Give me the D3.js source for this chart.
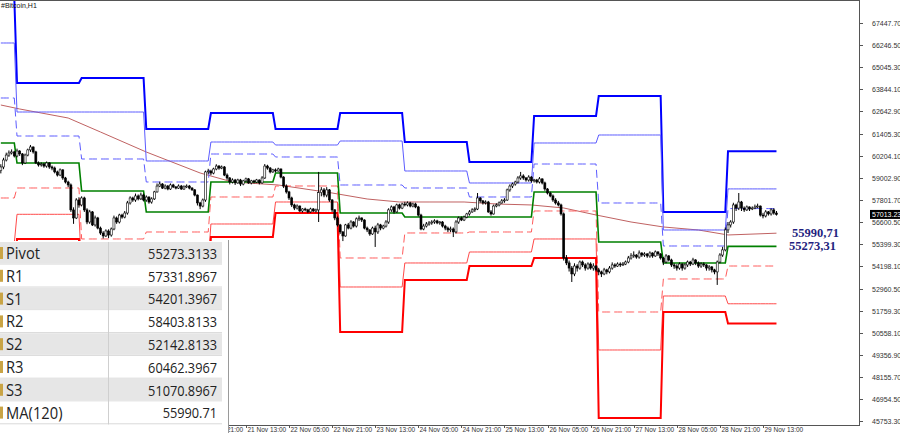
<!DOCTYPE html>
<html><head><meta charset="utf-8">
<script src="https://cdn.jsdelivr.net/npm/d3@7"></script>
<style>body{margin:0;background:#fff;overflow:hidden}svg{display:block}</style>
</head><body><svg id="c" width="900" height="433"></svg>
<script>
// ---- data ----
const title = "#Bitcoin,H1";
const firstBar = [2021, 10, 17, 18]; // 17 Nov 18:00, hourly bars
const firstOpen = 59400;
const closes = [
59600,59980,60250,60360,60420,60200,60470,60310,59820,60250,
60530,60690,60420,59820,59710,59760,59650,59820,59600,59540,
59330,59160,59440,59000,58780,58620,57260,56820,57800,57530,
57910,57260,56600,57150,56440,56820,56270,56000,55840,56110,
55890,56220,56820,56600,56980,56870,57090,57640,57910,57800,
58020,57860,58070,57800,57960,57690,57860,58240,58560,58670,
58450,58560,58400,58620,58510,58450,58560,58400,58510,58560,
58450,58350,58070,57640,57470,57800,59330,59380,59270,59490,
59650,59540,59600,59160,59000,58780,58890,58730,58890,58670,
58840,58950,58730,58840,58780,58890,58730,59000,59650,59540,
59330,59440,59380,59490,59050,58560,58240,57910,57530,57360,
57470,57200,57310,57260,57150,57310,57200,57260,58200,58350,
58070,58350,57800,57260,56820,56440,56060,55840,56440,56270,
56600,56380,56770,56820,56710,56270,56170,55950,56270,56060,
56440,56270,56380,56600,57260,57420,57150,57530,57360,57580,
57530,57640,57470,57580,57420,56980,56220,56380,56490,56550,
56600,56660,56550,56600,56380,56270,56170,56220,56060,56600,
56820,56710,56870,57040,57150,57260,57310,57910,57750,57640,
57690,57150,57040,57470,57530,57640,57750,57800,58350,58560,
58670,58780,59000,59110,59000,58890,59050,58840,58890,58780,
58950,58730,58400,58180,58020,57800,57640,57530,57040,54640,
54370,54090,53770,54200,54090,54420,54260,54090,54310,54090,
54200,53990,53880,53770,53990,53880,54090,54260,54200,54310,
54260,54310,54420,54640,54750,54800,54690,54910,54800,54860,
54750,54910,54750,54970,54860,54640,54420,54750,54530,54260,
54200,54090,54310,54090,54260,54420,54310,54530,54370,54200,
54310,54260,54090,54150,53990,53880,54420,54800,55080,56170,
56440,56600,57530,57360,57690,57360,57260,57420,57310,57360,
57420,57470,56980,56930,57150,57040,57260,57090,57013.23];
const highs = [
59750,60100,60380,60500,60560,60480,60600,60520,60360,60330,
60600,60800,60720,60480,59900,59850,59830,59900,59860,59680,
59620,59400,59520,59480,59060,58850,58700,57400,57900,57950,
58000,57980,57350,57260,57200,56950,56880,56350,56100,56200,
56200,56300,56950,56900,57050,57050,57200,57750,58000,57980,
58150,58100,58200,58150,58050,58000,57950,58300,58700,58800,
58720,58650,58620,58700,58680,58560,58650,58620,58600,58650,
58620,58500,58400,58100,57700,57880,59400,59500,59450,59560,
59750,59700,59680,59650,59250,59050,58980,58950,58960,58950,
58900,59020,59000,58900,58900,58950,58920,59100,59760,59720,
59600,59500,59520,59560,59520,59100,58650,58300,57980,57600,
57560,57500,57350,57380,57320,57380,57360,57330,59330,58500,
58450,58500,58400,57850,57300,56900,56500,56100,56500,56550,
56700,56650,56850,56950,56850,56750,56350,56200,56350,56400,
56550,56500,56450,56700,57350,57500,57480,57600,57600,57650,
57700,57720,57700,57650,57650,57480,57050,56500,56600,56650,
56700,56750,56720,56650,56650,56450,56350,56350,56300,56700,
56900,56900,56950,57100,57250,57350,57400,58180,57960,57800,
57780,57750,57250,57550,57620,57720,57850,57900,58420,58650,
58750,58850,59100,59330,59200,59050,59150,59100,58950,58950,
59050,58980,58800,58450,58250,58100,57900,57750,57600,57120,
54800,54500,54200,54350,54300,54500,54500,54350,54400,54400,
54350,54250,54100,53950,54100,54050,54200,54400,54350,54400,
54400,54420,54500,54750,54900,55000,54850,55050,54950,54950,
54900,55000,54950,55050,55000,54900,54700,54850,54800,54600,
54350,54300,54400,54350,54350,54500,54480,54650,54580,54450,
54400,54400,54300,54250,54200,54050,54500,54900,55250,56300,
56600,56700,57650,57600,58180,57750,57450,57500,57450,57450,
57550,57600,57500,57100,57250,57200,57350,57350,57200];
const lows = [
59250,59480,59900,60150,60280,60120,60120,60200,59700,59760,
60180,60420,60330,59760,59620,59620,59560,59560,59500,59420,
59250,59080,59100,58900,58700,58500,57150,56500,56760,57380,
57450,57150,56480,56500,56380,56350,56200,55900,55700,55780,
55720,55800,56150,56500,56520,56780,56800,57000,57550,57700,
57700,57780,57800,57720,57700,57600,57600,57800,58200,58500,
58400,58380,58330,58350,58450,58380,58400,58350,58350,58450,
58380,58300,58000,57500,57300,57400,57700,59200,59150,59200,
59420,59450,59480,59100,58900,58650,58700,58620,58680,58560,
58600,58780,58680,58650,58700,58720,58650,58680,58950,59450,
59250,59280,59300,59350,58980,58450,58150,57800,57420,57250,
57280,57150,57120,57180,57080,57100,57150,57120,56600,58000,
57950,57950,57700,57150,56700,56350,55950,55560,55800,56200,
56200,56300,56300,56650,56600,56200,56050,55850,55900,55240,
55950,56150,56200,56300,56500,57150,57050,57100,57280,57300,
57450,57450,57400,57400,57350,56900,56150,56150,56300,56400,
56450,56500,56480,56450,56300,56150,56050,56050,55780,55980,
56500,56650,56650,56800,56950,57100,57150,57250,57650,57550,
57550,57100,56950,57000,57400,57450,57600,57650,57750,58250,
58450,58580,58700,58900,58900,58800,58800,58750,58750,58700,
58700,58650,58300,58100,57950,57700,57550,57450,56950,54500,
54250,53900,53330,53650,53900,54000,54150,53950,54000,54000,
53950,53900,53700,53600,53700,53750,53800,54000,54100,54150,
54150,54200,54250,54350,54550,54650,54600,54600,54700,54700,
54650,54650,54650,54700,54750,54550,54250,54350,54450,54150,
54050,53950,54000,53950,54000,54150,54200,54250,54250,54100,
54100,54150,53950,53950,53850,53750,53170,54350,54700,55000,
56000,56300,56500,57200,57250,57200,57150,57200,57200,57250,
57300,57350,56900,56800,56850,56950,56950,57000,56950];

// daily pivot levels, 17 Nov .. 29 Nov
const pivotDays = [17,18,19,20,21,22,23,24,25,26,27,28,29];
const levelP  = [60907,59817,58291,57146,58781,59272,57092,56874,56874,58236,55511,54367,55273.3133];
const levelR1 = [63360,61288,60035,58781,60307,60144,58618,58454,57964,59762,57637,55293,57331.8967];
const levelS1 = [57909,58454,55675,56056,57964,58563,54639,56002,56056,57201,51695,53495,54201.3967];
const levelR2 = [66358,62596,62596,59926,60961,60798,61016,59381,58727,60907,61343,56165,58403.8133];
const levelS2 = [55457,57020,53985,54367,56492,57691,53058,54367,54966,55675,49624,52567,52142.8133];
const levelR3 = [68810,64177,64450,61670,62542,61670,62542,60961,59871,62378,63469,57146,60462.3967];
const levelS3 = [52458,55675,51313,53222,55784,57092,50605,53440,54203,54639,45917,51695,51070.8967];

// MA(120) read at selected bars
const maBars   = [0,7,25,37,54,74,86,103,123,136,148,159,172,184,197,209,221,234,246,259,270,288];
const maValues = [62978,62760,62269,61506,60416,59272,58781,58618,58182,57855,57691,57691,57691,57582,57528,57364,56983,56601,56329,56165,55893,55990.71];

const xTickLabels = ["20 Nov 21:00","21 Nov 13:00","22 Nov 05:00","22 Nov 21:00","23 Nov 13:00","24 Nov 05:00","24 Nov 21:00","25 Nov 13:00","26 Nov 05:00","26 Nov 21:00","27 Nov 13:00","28 Nov 05:00","28 Nov 21:00","29 Nov 13:00"];
const yTickValues = [67447.70,66246.50,65045.30,63844.10,62642.90,61405.30,60204.10,59002.90,57801.70,56600.50,55399.30,54198.10,52960.50,51759.30,50558.10,49356.90,48155.70,46954.50,45753.30];
const lastPrice = 57013.23;

const tableNames  = ["Pivot","R1","S1","R2","S2","R3","S3","MA(120)"];
const tableValues = ["55273.3133","57331.8967","54201.3967","58403.8133","52142.8133","60462.3967","51070.8967","55990.71"];
const sideLabels  = ["55990,71","55273,31"];
const sideValues  = [55990.71, 55273.3133];

// ---- drawing ----
const svg = d3.select("#c");
const W = 900, H = 433, plotR = 859, plotB = 425;
const dt = (d,h)=> new Date(2021,10,d,h);
const x = d3.scaleTime().domain([dt(18,0), dt(29,0)]).range([17, 728]);
const y = d3.scaleLinear().domain([45753.3, 67447.7]).range([421, 23]);

const t0 = new Date(firstBar[0], firstBar[1], firstBar[2], firstBar[3]);
const bars = closes.map((c,i)=>{
  const t = new Date(t0.getTime() + i*3600000);
  const o = i===0 ? firstOpen : closes[i-1];
  return {i, t, o, c, h: highs[i], l: lows[i], day: t.getDate()};
});

svg.append("rect").attr("width",W).attr("height",H).attr("fill","#fff");
svg.append("defs").append("clipPath").attr("id","pc").append("rect")
  .attr("x",0).attr("y",1).attr("width",plotR).attr("height",plotB-1);
const g = svg.append("g").attr("clip-path","url(#pc)");

const levels = [
  {v:levelR3, c:"#0000ff", w:2, d:null},
  {v:levelR2, c:"#5c5cff", w:1, d:null},
  {v:levelR1, c:"#5c5cff", w:1, d:"8,4"},
  {v:levelS1, c:"#ff5c5c", w:1, d:"8,4"},
  {v:levelS2, c:"#ff4a4a", w:1, d:null},
  {v:levelS3, c:"#ff0000", w:2, d:null},
  {v:levelP,  c:"#008000", w:1.6, d:null}
];
// MA
const maLine = d3.line().x(d=>x(bars[d[0]].t)).y(d=>y(d[1]));
g.append("path").datum(maBars.map((b,k)=>[b,maValues[k]]))
  .attr("d",maLine).attr("fill","none").attr("stroke","#c06262").attr("stroke-width",1);

const lvLine = d3.line().x(d=>x(d.t)).y(d=>d.yy);
levels.forEach(L=>{
  const pts = bars.map(b=>({t:b.t, yy:y(L.v[pivotDays.indexOf(b.day)])}));
  g.append("path").datum(pts).attr("d",lvLine).attr("fill","none")
    .attr("stroke",L.c).attr("stroke-width",L.w)
    .attr("stroke-dasharray",L.d);
});

// candles
const cg = g.append("g");
cg.selectAll("line").data(bars).join("line")
  .attr("x1",d=>x(d.t)).attr("x2",d=>x(d.t))
  .attr("y1",d=>y(d.h)).attr("y2",d=>y(d.l))
  .attr("stroke","#000").attr("stroke-width",1);
cg.selectAll("rect").data(bars).join("rect")
  .attr("x",d=>x(d.t)-1).attr("width",2)
  .attr("y",d=>y(Math.max(d.o,d.c)))
  .attr("height",d=>Math.max(0.8,Math.abs(y(d.o)-y(d.c))))
  .attr("fill",d=>d.c>=d.o?"#fff":"#000")
  .attr("stroke","#000").attr("stroke-width",0.6);

// frame
svg.append("line").attr("x1",0).attr("x2",plotR).attr("y1",0.5).attr("y2",0.5).attr("stroke","#555");
svg.append("line").attr("x1",plotR+0.5).attr("x2",plotR+0.5).attr("y1",0).attr("y2",plotB+0.5).attr("stroke","#555");
svg.append("line").attr("x1",0).attr("x2",plotR+1).attr("y1",plotB+0.5).attr("y2",plotB+0.5).attr("stroke","#555");

// title
svg.append("text").attr("x",1).attr("y",8).text(title)
  .attr("font-family","Liberation Sans, Arial").attr("font-size",7).attr("fill","#111");

// y axis
const ya = svg.append("g");
yTickValues.forEach(v=>{
  const yy = Math.round(y(v))+0.5;
  ya.append("line").attr("x1",plotR).attr("x2",plotR+4).attr("y1",yy).attr("y2",yy).attr("stroke","#555");
  ya.append("text").attr("x",872).attr("y",yy).attr("dy","0.35em").text(v.toFixed(2))
    .attr("font-family","Liberation Sans, Arial").attr("font-size",7).attr("fill","#333");
});
const ly = y(lastPrice);
ya.append("rect").attr("x",870).attr("y",ly-4.5).attr("width",30).attr("height",9).attr("fill","#000");
ya.append("text").attr("x",872).attr("y",ly).attr("dy","0.35em").text(lastPrice.toFixed(2))
  .attr("font-family","Liberation Sans, Arial").attr("font-size",7).attr("fill","#fff");

// x axis
const pt = s=>{const m=s.match(/(\d+) Nov (\d+):(\d+)/);return dt(+m[1],+m[2]);};
xTickLabels.forEach(s=>{
  const xx = Math.round(x(pt(s)))+0.5;
  svg.append("line").attr("x1",xx).attr("x2",xx).attr("y1",plotB).attr("y2",plotB+3).attr("stroke","#555");
  svg.append("text").attr("x",xx+1).attr("y",432).text(s)
    .attr("font-family","Liberation Sans, Arial").attr("font-size",6.5).attr("fill","#333");
});

// side labels
sideLabels.forEach((s,k)=>{
  svg.append("text").attr("x",k===0?792:789).attr("y",y(sideValues[k])).attr("dy","0.33em").text(s)
    .attr("font-family","Liberation Serif, Times New Roman").attr("font-weight","bold")
    .attr("font-size",12.5).attr("fill","#1f1f80");
});

// table
const tb = svg.append("g");
const tTop = 242, rowH = 22.8;
tb.append("rect").attr("x",0).attr("y",tTop-1).attr("width",228).attr("height",H-tTop+1).attr("fill","#fff");
tableNames.forEach((n,k)=>{
  const y0 = tTop + k*rowH;
  tb.append("rect").attr("x",0).attr("y",y0).attr("width",222).attr("height",rowH-1.2)
    .attr("fill",k%2===0?"#e6e6e6":"#fff");
  tb.append("line").attr("x1",0).attr("x2",222).attr("y1",y0+rowH-0.6).attr("y2",y0+rowH-0.6).attr("stroke","#d9d9d9");
  tb.append("rect").attr("x",0).attr("y",y0+5).attr("width",3).attr("height",12).attr("fill","#c9a445");
  tb.append("text").attr("transform",`translate(6,${y0+rowH/2}) scale(0.95,1)`).attr("dy","0.36em").text(n)
    .attr("font-family","Open Sans, Noto Sans").attr("font-size",15.5).attr("fill","#222");
  tb.append("text").attr("transform",`translate(217,${y0+rowH/2}) scale(0.85,1)`).attr("dy","0.36em")
    .attr("text-anchor","end").text(tableValues[k])
    .attr("font-family","Open Sans, Noto Sans").attr("font-size",15).attr("fill","#222");
});
tb.append("line").attr("x1",108.5).attr("x2",108.5).attr("y1",tTop).attr("y2",tTop+8*rowH).attr("stroke","#cfcfcf");
tb.append("line").attr("x1",228.5).attr("x2",228.5).attr("y1",tTop-2).attr("y2",H).attr("stroke","#9a9a9a");
</script></body></html>
